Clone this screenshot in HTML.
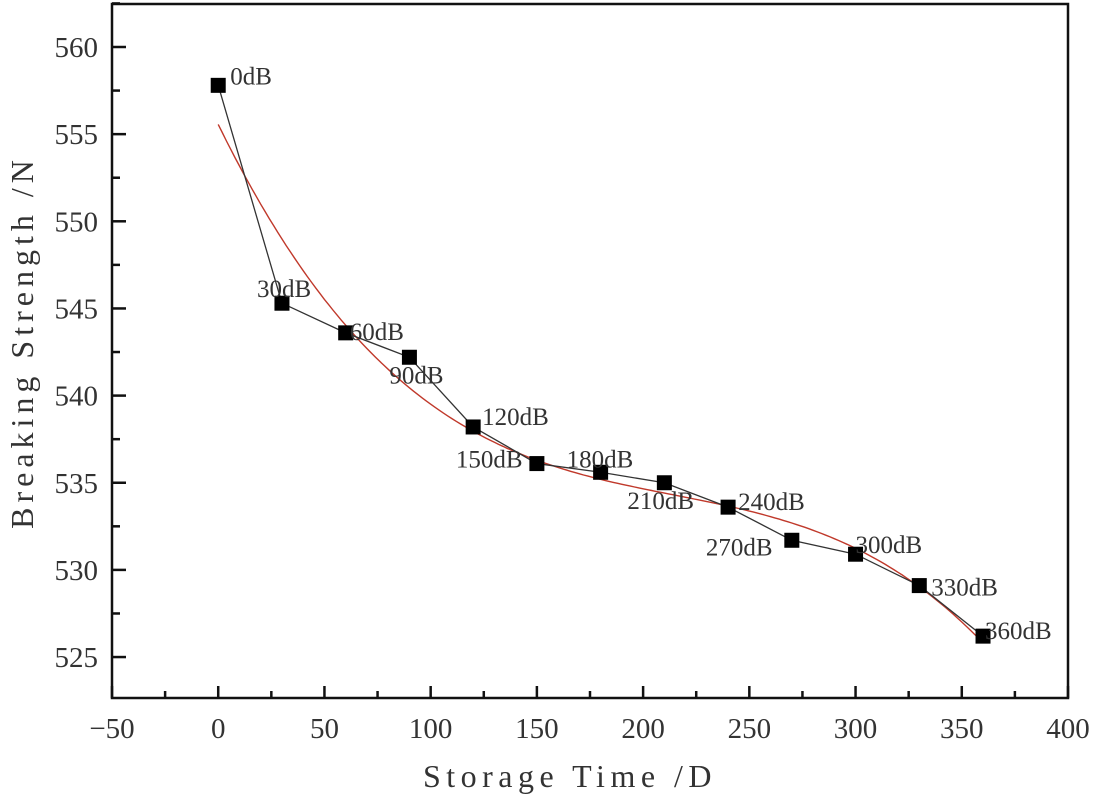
<!DOCTYPE html>
<html><head><meta charset="utf-8">
<style>
html,body{margin:0;padding:0;background:#fff;}
svg{display:block;}
text{font-family:"Liberation Serif","Noto Serif CJK SC",serif;fill:#333;}
</style></head>
<body>
<svg id="chart" width="1096" height="794" viewBox="0 0 1096 794" xmlns="http://www.w3.org/2000/svg">
<g id="axes"></g>
<g id="series"></g>
<text x="570" y="787" text-anchor="middle" font-size="32" letter-spacing="5.5" fill="#444">Storage Time /D</text>
<text transform="translate(33,342) rotate(-90)" text-anchor="middle" font-size="32" letter-spacing="5" fill="#444">Breaking Strength /N</text>
</svg>
<script>
const days = [0,30,60,90,120,150,180,210,240,270,300,330,360];
const strength = [557.8,545.3,543.6,542.2,538.2,536.1,535.6,535.0,533.6,531.7,530.9,529.1,526.2];
const pointLabels = ["0dB","30dB","60dB","90dB","120dB","150dB","180dB","210dB","240dB","270dB","300dB","330dB","360dB"];
const xTicks = [-50,0,50,100,150,200,250,300,350,400];
const yTicks = [525,530,535,540,545,550,555,560];
const labelDx = [12,-25,4,-20,9,-81,-34,-37,10,-86,0,12,2];
const labelDy = [-9,-14,-1,18,-10,-4,-13,18,-5,7,-9,2,-5];

const NS="http://www.w3.org/2000/svg";
const L=112,R=1068,T=4,B=698;
const xMin=-50,xMax=400;
const sx=v=>L+(v-xMin)/(xMax-xMin)*(R-L);
const sy=v=>47+(560-v)*17.43;
function mk(tag,attrs,parent){const e=document.createElementNS(NS,tag);for(const k in attrs)e.setAttribute(k,attrs[k]);parent.appendChild(e);return e;}
const axes=document.getElementById('axes'), series=document.getElementById('series');

const frame=mk('rect',{x:L,y:T,width:R-L,height:B-T,fill:'none',stroke:'#111','stroke-width':2.5},axes);



xTicks.forEach((t,i)=>{
  const x=sx(t);
  const tk=mk('line',{x1:x,x2:x,y1:B,y2:B-12,stroke:'#111','stroke-width':2.5},axes);
  
  
  if(i<xTicks.length-1){const xm=sx(t+25);
    const mt=mk('line',{x1:xm,x2:xm,y1:B,y2:B-7,stroke:'#111','stroke-width':2.5},axes);
    
    }
  const lb=mk('text',{x:x,y:738,'text-anchor':'middle','font-size':29,fill:'#555'},axes);
  lb.textContent=(t<0?'\u2212'+(-t):t);
  
  
});
yTicks.forEach((t,i)=>{
  const y=sy(t);
  const tk=mk('line',{x1:L,x2:L+14,y1:y,y2:y,stroke:'#111','stroke-width':2.5},axes);
  
  
  const ym=sy(t-2.5); if(ym<B-2){
    const mt=mk('line',{x1:L,x2:L+8,y1:ym,y2:ym,stroke:'#111','stroke-width':2.5},axes);
    
    }
  const lb=mk('text',{x:98,y:y+10,'text-anchor':'end','font-size':29,fill:'#555'},axes);
  lb.textContent=t;
  
  
});
{const ym=sy(562.5);const mt=mk('line',{x1:L,x2:L+8,y1:ym,y2:ym,stroke:'#111','stroke-width':2.5},axes);
 
 }

function fitPoly(xs,ys,deg){const n=deg+1;const A=[];for(let i=0;i<n;i++){A.push(new Array(n+1).fill(0));}
  const s=v=>v/100;
  xs.forEach((x0,k)=>{const x=s(x0);for(let i=0;i<n;i++){for(let j=0;j<n;j++)A[i][j]+=Math.pow(x,i+j);A[i][n]+=ys[k]*Math.pow(x,i);}});
  for(let i=0;i<n;i++){let p=i;for(let r=i+1;r<n;r++)if(Math.abs(A[r][i])>Math.abs(A[p][i]))p=r;[A[i],A[p]]=[A[p],A[i]];
    for(let r=0;r<n;r++){if(r===i)continue;const f=A[r][i]/A[i][i];for(let c=i;c<=n;c++)A[r][c]-=f*A[i][c];}}
  const co=A.map((row,i)=>row[n]/row[i]);return x=>co.reduce((a,c,i)=>a+c*Math.pow(s(x),i),0);}
const f=fitPoly(days,strength,3);
let d='';for(let x=days[0];x<=days[days.length-1];x+=2){d+=(d?'L':'M')+sx(x).toFixed(1)+','+sy(f(x)).toFixed(1);}
const fit=mk('path',{d:d,fill:'none',stroke:'#c0392b','stroke-width':1.4},series);



let pd='';days.forEach((x,i)=>{pd+=(i?'L':'M')+sx(x)+','+sy(strength[i]);});
const ln=mk('path',{d:pd,fill:'none',stroke:'#333','stroke-width':1.3},series);



days.forEach((x,i)=>{
  const px=sx(x),py=sy(strength[i]);
  const m=mk('rect',{x:px-7.5,y:py-7.5,width:15,height:15,fill:'#000'},series);
  
  
  const t=mk('text',{x:px+labelDx[i],y:py+labelDy[i]+8,'font-size':25,fill:'#222'},series);
  t.textContent=pointLabels[i];
  
  
});
</script>
</body></html>
